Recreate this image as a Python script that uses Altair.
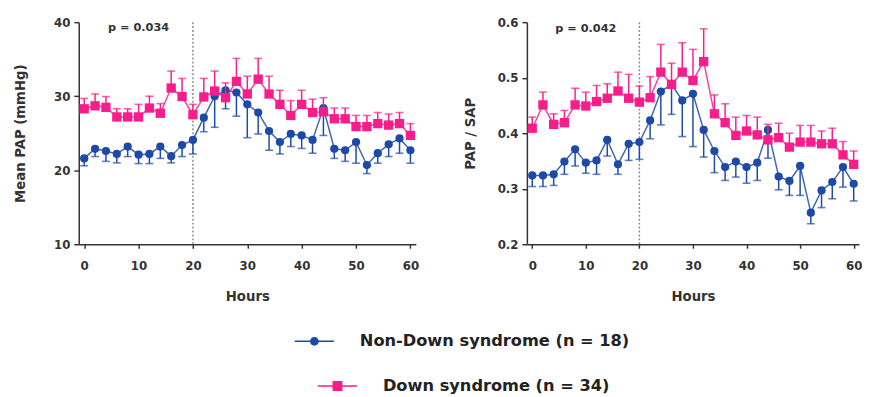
import altair as alt
import pandas as pd

# ---------------- data ----------------
hours = [0, 2, 4, 6, 8, 10, 12, 14, 16, 18, 20, 22, 24, 26, 28, 30,
         32, 34, 36, 38, 40, 42, 44, 46, 48, 50, 52, 54, 56, 58, 60]

# Mean PAP (mmHg)
pap_nds_mean = [21.6, 22.9, 22.6, 22.2, 23.2, 22.1, 22.2, 23.2, 21.9, 23.4, 24.1,
                27.1, 30.0, 30.8, 30.5, 28.9, 27.8, 25.3, 23.8, 24.9, 24.7, 24.1,
                28.4, 22.9, 22.7, 23.8, 20.7, 22.3, 23.5, 24.3, 22.7]
pap_nds_low = [20.6, 21.85, 21.2, 21.0, 21.85, 20.9, 20.9, 21.6, 21.0, 21.85, 22.2,
               25.2, 25.8, 28.3, 27.3, 24.4, 24.9, 22.7, 22.2, 23.2, 22.95, 22.3,
               24.7, 21.6, 21.2, 20.95, 19.55, 20.95, 21.85, 22.3, 20.95]
pap_ds_mean = [28.3, 28.7, 28.5, 27.2, 27.2, 27.2, 28.4, 27.7, 31.1, 29.95, 27.5,
               29.9, 30.7, 29.8, 32.0, 30.3, 32.3, 30.3, 28.9, 27.4, 28.9, 27.8,
               27.9, 26.95, 26.95, 25.9, 25.9, 26.3, 26.1, 26.3, 24.7]
pap_ds_high = [29.7, 30.3, 29.95, 28.3, 28.3, 28.9, 30.0, 29.0, 33.4, 32.4, 28.9,
               32.4, 33.4, 31.8, 35.1, 32.7, 35.1, 32.7, 30.8, 29.4, 30.8, 29.6,
               29.8, 28.4, 28.4, 27.4, 27.4, 27.8, 27.6, 27.8, 26.3]

# PAP / SAP
ratio_nds_mean = [0.324, 0.324, 0.326, 0.349, 0.371, 0.347, 0.351, 0.388, 0.344, 0.381, 0.384,
                  0.423, 0.475, 0.488, 0.459, 0.471, 0.406, 0.368, 0.339, 0.349, 0.339, 0.347,
                  0.406, 0.322, 0.314, 0.341, 0.257, 0.297, 0.312, 0.339, 0.309]
ratio_nds_low = [0.304, 0.304, 0.306, 0.326, 0.341, 0.328, 0.326, 0.359, 0.326, 0.351, 0.353,
                 0.390, 0.415, 0.434, 0.394, 0.376, 0.357, 0.329, 0.315, 0.321, 0.310, 0.315,
                 0.355, 0.298, 0.288, 0.288, 0.237, 0.266, 0.282, 0.303, 0.278]
ratio_ds_mean = [0.409, 0.451, 0.416, 0.419, 0.451, 0.449, 0.457, 0.463, 0.476, 0.463, 0.456,
                 0.464, 0.510, 0.488, 0.510, 0.495, 0.529, 0.435, 0.419, 0.396, 0.404, 0.397,
                 0.388, 0.392, 0.375, 0.384, 0.384, 0.381, 0.381, 0.361, 0.344]
ratio_ds_high = [0.429, 0.474, 0.435, 0.441, 0.481, 0.474, 0.486, 0.489, 0.510, 0.506, 0.485,
                 0.502, 0.560, 0.526, 0.563, 0.551, 0.588, 0.469, 0.453, 0.429, 0.432, 0.429,
                 0.416, 0.418, 0.400, 0.414, 0.414, 0.404, 0.409, 0.385, 0.368]

series_names = ["Non-Down syndrome (n = 18)", "Down syndrome (n = 34)"]
p_labels = ["p = 0.034", "p = 0.042"]
p_hours = [10, 10]
p_levels = [39.2, 0.588]
event_hour = [20]
x_ticks = [0, 10, 20, 30, 40, 50, 60]
pap_ticks = [10, 20, 30, 40]
ratio_ticks = [0.2, 0.3, 0.4, 0.5, 0.6]

# ---------------- styling ----------------
BLUE = "#1d4aa6"
PINK = "#f71e8c"
AX = "#333333"
FONT = "DejaVu Sans"

CIRCLE_LINE = "M-4,-0.15H4V0.15H-4Z M-0.9,0A0.9,0.9 0 1,1 0.9,0A0.9,0.9 0 1,1 -0.9,0Z"
SQUARE_LINE = "M-4,-0.15H4V0.15H-4Z M-1,-1H1V1H-1Z"


def panel(ytitle, nds_mean, nds_end, ds_mean, ds_end, ydomain, yvalues, yfmt,
          ptext, ph, py, width, height, title_pad, legends=False):
    xscale = alt.Scale(domain=[-1, 61], nice=False, zero=False)
    xaxis = alt.Axis(values=x_ticks, title="Hours", grid=False, tickSize=4,
                     labelPadding=13, titlePadding=18)
    yscale = alt.Scale(domain=ydomain, nice=False, zero=False)
    yaxis = alt.Axis(values=yvalues, format=yfmt, title=ytitle, grid=False,
                     tickSize=5, labelPadding=4, titlePadding=title_pad)
    X = alt.X("hour:Q", scale=xscale, axis=xaxis)

    def Yf(field):
        return alt.Y(f"{field}:Q", scale=yscale, axis=yaxis)

    layers = []
    layers.append(
        alt.Chart(pd.DataFrame({"hour": event_hour}))
        .mark_rule(color="#8a8a8a", strokeDash=[2, 2], strokeWidth=1.5)
        .encode(x=X)
    )
    parts = [
        (pd.DataFrame({"hour": hours, "mean": nds_mean, "end": nds_end}), BLUE, "circle", 70),
        (pd.DataFrame({"hour": hours, "mean": ds_mean, "end": ds_end}), PINK, "square", 90),
    ]
    for df, col, shp, sz in parts:
        base = alt.Chart(df)
        layers.append(base.mark_rule(color=col, strokeWidth=1.5)
                      .encode(x=X, y=Yf("mean"), y2="end:Q"))
        layers.append(base.mark_tick(color=col, orient="horizontal", size=8, thickness=1.6)
                      .encode(x=X, y=Yf("end")))
        layers.append(base.mark_line(color=col, strokeWidth=1.5, opacity=0.85)
                      .encode(x=X, y=Yf("mean")))
        layers.append(base.mark_point(filled=True, shape=shp, size=sz, color=col, opacity=1)
                      .encode(x=X, y=Yf("mean")))
    layers.append(
        alt.Chart(pd.DataFrame({"hour": [ph], "mean": [py], "label": [ptext]}))
        .mark_text(font=FONT, fontSize=11.5, fontWeight="bold", color=AX)
        .encode(x=X, y=Yf("mean"), text="label:N")
    )
    if legends:
        specs = [("lg1", series_names[0], CIRCLE_LINE, BLUE, 231.5, 316.5),
                 ("lg2", series_names[1], SQUARE_LINE, PINK, 255, 362)]
        for fld, name, path, col, lx, ly in specs:
            layers.append(
                alt.Chart(pd.DataFrame({fld: [name]}))
                .mark_point(filled=True, color=col, opacity=0, size=100)
                .encode(shape=alt.Shape(
                    f"{fld}:N",
                    scale=alt.Scale(domain=[name], range=[path]),
                    legend=alt.Legend(title=None, orient="none", legendX=lx, legendY=ly,
                                      padding=0, symbolSize=100, symbolStrokeWidth=0,
                                      labelOffset=38, labelFont=FONT,
                                      labelFontSize=16.5, labelFontWeight="bold",
                                      labelColor="#222222", labelLimit=400)))
            )
    ch = alt.layer(*layers).properties(width=width, height=height)
    if legends:
        ch = ch.resolve_scale(shape="independent")
    return ch


left = panel("Mean PAP (mmHg)", pap_nds_mean, pap_nds_low, pap_ds_mean, pap_ds_high,
             [10, 40], pap_ticks, "d", p_labels[0], p_hours[0], p_levels[0],
             343, 226, 27, legends=True)
right = panel("PAP / SAP", ratio_nds_mean, ratio_nds_low, ratio_ds_mean, ratio_ds_high,
              [0.2, 0.6], ratio_ticks, ".1f", p_labels[1], p_hours[1], p_levels[1],
              338, 226, 20)

chart = (
    alt.hconcat(left, right, spacing=113, bounds="flush")
    .properties(padding={"left": 5, "top": 5, "right": 0, "bottom": 0})
    .configure_view(stroke=None)
    .configure_axis(domainColor=AX, domainWidth=1.5, tickColor=AX, tickWidth=1.5,
                    labelFont=FONT, labelFontSize=12, labelFontWeight="bold",
                    labelColor=AX, titleFont=FONT, titleFontSize=13.5,
                    titleFontWeight="bold", titleColor=AX)
)

chart.save("out.html", embed_options={"renderer": "svg", "actions": False})
